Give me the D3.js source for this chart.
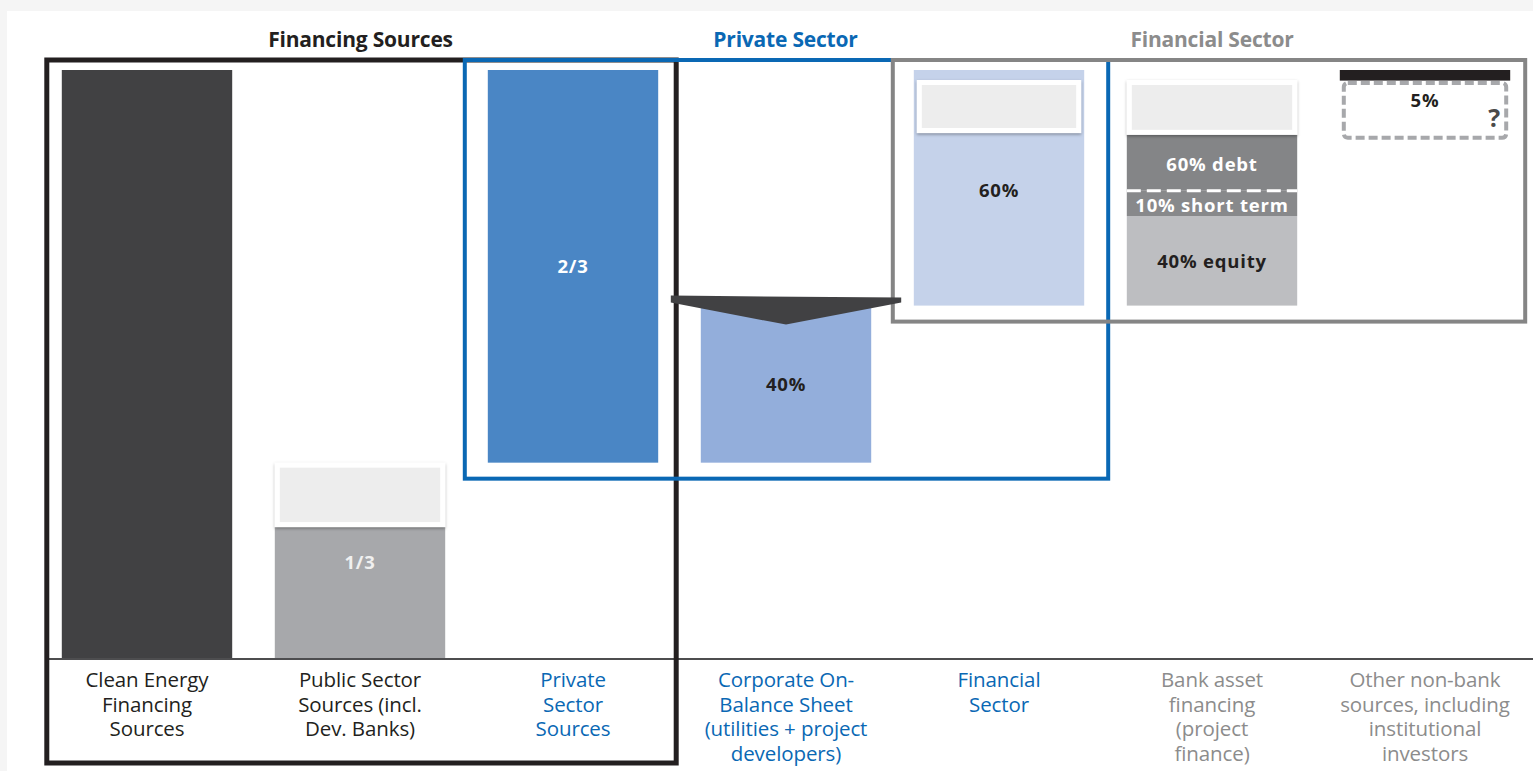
<!DOCTYPE html>
<html>
<head>
<meta charset="utf-8">
<script src="https://cdn.jsdelivr.net/npm/d3@7"></script>
<style>
  html, body { margin: 0; padding: 0; background: #f5f5f5; }
  svg { display: block; }
  text { font-family: "Open Sans", "Noto Sans", sans-serif; }
</style>
</head>
<body>
<svg width="1533" height="771"></svg>
<script>
// categories (bottom labels, one line per entry)
const categories = [
  ["Clean Energy", "Financing", "Sources"],
  ["Public Sector", "Sources (incl.", "Dev. Banks)"],
  ["Private", "Sector", "Sources"],
  ["Corporate On-", "Balance Sheet", "(utilities + project", "developers)"],
  ["Financial", "Sector"],
  ["Bank asset", "financing", "(project", "finance)"],
  ["Other non-bank", "sources, including", "institutional", "investors"]
];
const labelGroup = ["dark", "dark", "blue", "blue", "blue", "grey", "grey"];

// segments: [category index, start, end, kind, label] in share of total financing
const segments = [
  [0, 0, 1, "dark", ""],
  [1, 0, 0.224, "grey", "1/3"],
  [1, 0.224, 1 / 3, "pale", ""],
  [2, 1 / 3, 1, "blue", "2/3"],
  [3, 1 / 3, 0.6, "lightblue", "40%"],
  [4, 0.6, 1, "paleblue", "60%"],
  [4, 0.893, 0.983, "pale", ""],
  [5, 0.6, 0.752, "equity", "40% equity"],
  [5, 0.752, 0.795, "short", "10% short term"],
  [5, 0.795, 0.89, "debt", "60% debt"],
  [5, 0.89, 0.983, "pale", ""],
  [6, 0.982, 1, "black", ""],
  [6, 0.885, 0.978, "unknown", "5%"]
];

const titles = ["Financing Sources", "Private Sector", "Financial Sector"];

const colors = {
  dark: "#414143", grey: "#a7a8ab", pale: "#ededed", blue: "#4a86c5",
  lightblue: "#93aedb", paleblue: "#c5d2ea", equity: "#bdbec1",
  short: "#88898b", debt: "#848587", black: "#231f20", unknown: "none"
};
const textColors = {
  grey: "#f0f0f0", blue: "#ffffff", lightblue: "#231f20", paleblue: "#231f20",
  equity: "#231f20", short: "#ffffff", debt: "#ffffff", unknown: "#231f20"
};
const groupColors = { dark: "#231f20", blue: "#0a68b4", grey: "#8c8c8c" };

const svg = d3.select("svg");

// white panel
svg.append("rect").attr("x", 7).attr("y", 11).attr("width", 1526).attr("height", 760).attr("fill", "#fff");

const x = d3.scaleBand().domain(d3.range(categories.length))
  .range([40.5, 1531.5]).paddingInner(0.2).paddingOuter(0.1);
const y = d3.scaleLinear().domain([0, 1]).range([659, 70]);

const defs = svg.append("defs");
const shadow = defs.append("filter").attr("id", "shadow")
  .attr("x", "-10%").attr("y", "-10%").attr("width", "120%").attr("height", "130%");
shadow.append("feDropShadow").attr("dx", 0).attr("dy", 1.5).attr("stdDeviation", 1.5)
  .attr("flood-color", "#000").attr("flood-opacity", 0.35);

const g = svg.append("g");

// bars
segments.forEach(([c, s, e, kind, label]) => {
  const x0 = x(c), w = x.bandwidth();
  if (kind === "pale") {
    const inset = c === 4 ? 3 : 0;
    g.append("rect")
      .attr("x", x0 + inset).attr("y", y(e))
      .attr("width", w - 2 * inset).attr("height", y(s) - y(e))
      .attr("fill", "#fff").attr("filter", "url(#shadow)");
    g.append("rect")
      .attr("x", x0 + inset + 5).attr("y", y(e) + 5)
      .attr("width", w - 2 * inset - 10).attr("height", y(s) - y(e) - 10)
      .attr("fill", colors.pale);
  } else if (kind === "unknown") {
    g.append("rect")
      .attr("x", x0 + 4).attr("y", y(e))
      .attr("width", w - 8).attr("height", y(s) - y(e))
      .attr("rx", 4)
      .attr("fill", "none").attr("stroke", "#a7a8ab").attr("stroke-width", 4)
      .attr("stroke-dasharray", "9,4");
    g.append("text")
      .attr("x", x0 + w - 16).attr("y", y(e) + 44)
      .attr("text-anchor", "middle").attr("font-size", 25).attr("font-weight", 700)
      .attr("fill", "#4a4a4a").text("?");
  } else {
    g.append("rect")
      .attr("x", x0).attr("y", y(e))
      .attr("width", w).attr("height", y(s) - y(e))
      .attr("fill", colors[kind]);
  }
  if (label) {
    let ty = (y(s) + y(e)) / 2 + 7;
    if (kind === "grey") ty = y(e) + 42;
    if (kind === "paleblue") ty = y(e) + 127;
    if (kind === "unknown") ty = y(e) + 24;
    if (kind === "short") ty = y(e) + 21;
    if (kind === "debt") ty = y(e) + 36;
    g.append("text")
      .attr("x", x0 + w / 2).attr("y", ty)
      .attr("text-anchor", "middle").attr("font-size", 18.5).attr("font-weight", 700)
      .attr("letter-spacing", 0.8)
      .attr("fill", textColors[kind]).text(label);
  }
});

// dashed white separator between debt and short term
g.append("line")
  .attr("x1", x(5)).attr("x2", x(5) + x.bandwidth())
  .attr("y1", y(0.795)).attr("y2", y(0.795))
  .attr("stroke", "#fff").attr("stroke-width", 3).attr("stroke-dasharray", "14,6");

// baseline
g.append("line")
  .attr("x1", x(0) - 15).attr("x2", 1533)
  .attr("y1", y(0)).attr("y2", y(0))
  .attr("stroke", "#4d4d4f").attr("stroke-width", 2);

// frames
const frames = [
  { x0: x(0) - 15, x1: x(2) + x.bandwidth() + 18, y1: 763, color: "#231f20", w: 5 },
  { x0: x(2) - 23, x1: x(4) + x.bandwidth() + 24, y1: y(1 / 3) + 16, color: "#0a68b4", w: 4 },
  { x0: x(4) - 21, x1: x(6) + x.bandwidth() + 15, y1: y(0.6) + 16, color: "#858585", w: 4 }
];
frames.forEach((f, i) => {
  g.append("rect")
    .attr("x", f.x0).attr("y", 60)
    .attr("width", f.x1 - f.x0).attr("height", f.y1 - 60)
    .attr("fill", "none").attr("stroke", f.color).attr("stroke-width", f.w);
  g.append("text")
    .attr("x", (f.x0 + f.x1) / 2 + [-1, -1, 3][i]).attr("y", 47)
    .attr("text-anchor", "middle").attr("font-size", 21).attr("font-weight", 700)
    .attr("letter-spacing", -0.2)
    .attr("fill", f.color === "#858585" ? "#8c8c8c" : f.color).text(titles[i]);
});

// arrow from private sector down into corporate on-balance sheet
const ay = y(0.6);
const ax0 = x(3) - 30, ax1 = x(3) + x.bandwidth() + 30, axm = x(3) + x.bandwidth() / 2;
g.append("path")
  .attr("d", `M${ax0},${ay - 10} L${ax1},${ay - 8} L${ax1},${ay - 3} L${axm},${ay + 19} L${ax0},${ay - 3} Z`)
  .attr("fill", "#414143");

// category labels
categories.forEach((lines, i) => {
  const t = g.append("text")
    .attr("x", x(i) + x.bandwidth() / 2).attr("y", 687)
    .attr("text-anchor", "middle").attr("font-size", 20.5)
    .attr("letter-spacing", -0.1)
    .attr("fill", groupColors[labelGroup[i]]);
  lines.forEach((l, k) => {
    t.append("tspan").attr("x", x(i) + x.bandwidth() / 2).attr("dy", k === 0 ? 0 : 24.5).text(l);
  });
});
</script>
</body>
</html>
